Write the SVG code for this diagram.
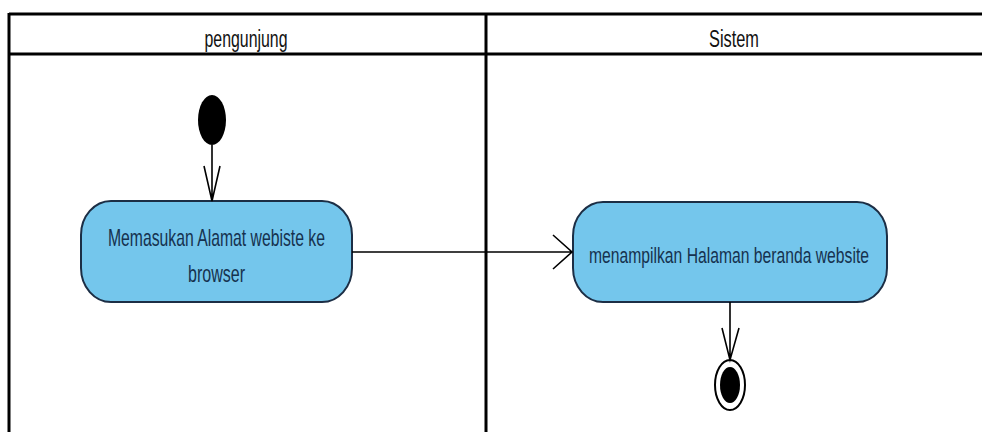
<svg xmlns="http://www.w3.org/2000/svg" width="982" height="432" viewBox="0 0 982 432">
<defs>
<style>
.lane{stroke:#000;stroke-width:3;fill:none}
.hdr{font-family:"Liberation Sans",Arial,sans-serif;font-size:23px;fill:#111;text-anchor:middle}
.act rect{fill:#74c6ec;stroke:#1c2e45;stroke-width:2}
.lbl{font-family:"Liberation Sans",Arial,sans-serif;font-size:24px;fill:#16324f;text-anchor:middle}
.edge{stroke:#000;stroke-width:1.6;fill:none}
</style>
</defs>
<rect width="982" height="432" fill="#fff"/>
<g id="swimlanes">
<line class="lane" x1="9" y1="14" x2="982" y2="14"/>
<line class="lane" x1="9" y1="54" x2="982" y2="54" stroke-width="4"/>
<line class="lane" x1="9" y1="13" x2="9" y2="432"/>
<line class="lane" x1="486" y1="13" x2="486" y2="432"/>
<text class="hdr" x="246" y="47" textLength="83" lengthAdjust="spacingAndGlyphs">pengunjung</text>
<text class="hdr" x="734" y="47" textLength="50" lengthAdjust="spacingAndGlyphs">Sistem</text>
</g>
<g id="start">
<ellipse cx="212" cy="120" rx="14" ry="25" fill="#000"/>
</g>
<g id="act1" class="act">
<rect x="81" y="201" width="271" height="101" rx="30" ry="34"/>
<text class="lbl" x="216.5" y="246" textLength="217" lengthAdjust="spacingAndGlyphs">Memasukan Alamat webiste ke</text>
<text class="lbl" x="216.5" y="282" textLength="57" lengthAdjust="spacingAndGlyphs">browser</text>
</g>
<g id="act2" class="act">
<rect x="573" y="202" width="314" height="100" rx="30" ry="34"/>
<text class="lbl" x="729" y="263" textLength="280" lengthAdjust="spacingAndGlyphs" style="font-size:22px">menampilkan Halaman beranda website</text>
</g>
<g id="end">
<ellipse cx="730" cy="385" rx="15" ry="25" fill="#fff" stroke="#000" stroke-width="2"/>
<ellipse cx="730" cy="385" rx="10" ry="18" fill="#000"/>
</g>
<g id="connectors">
<path class="edge" d="M212 145 V201 M204 166 L212 201 L220 166"/>
<path class="edge" d="M352 252 H572 M553 235 L572 252 L553 269"/>
<path class="edge" d="M730 302 V360 M722 328 L730 360 L739 328"/>
</g>
</svg>
